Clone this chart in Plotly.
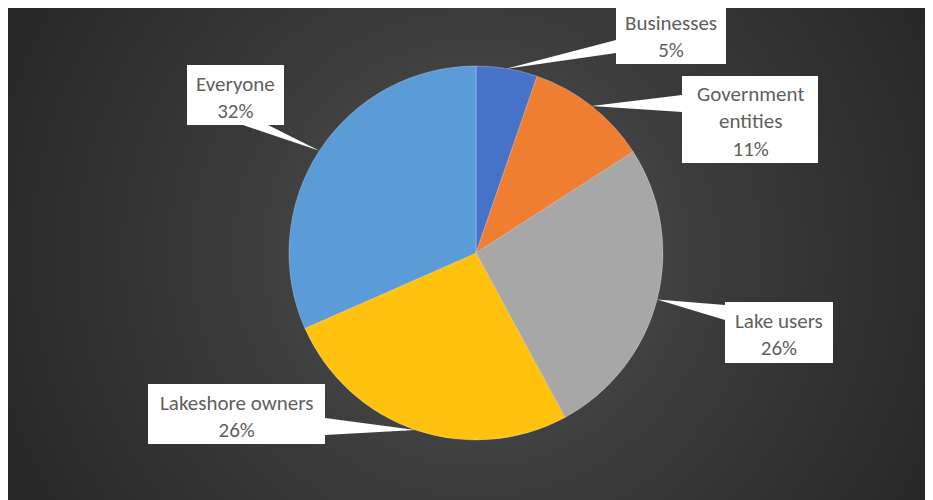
import math, base64
import plotly.graph_objects as go

# ---- data ----
labels = ["Businesses", "Government entities", "Lake users", "Lakeshore owners", "Everyone"]
label_text = ["Businesses", "Government<br>entities", "Lake users", "Lakeshore owners", "Everyone"]
values = [5.3, 10.6, 26.2, 26.3, 31.6]
colors = ["#4672C8", "#EF7E33", "#A7A7A7", "#FFC20E", "#5B9BD7"]

W, H = 933, 500
OX, OY = 8, 8   # page body margin offset (pixels)
# pie geometry (pixels in page coordinates)
CX, CY, R = 476, 253, 187

# callout boxes (pixels: x0, y0, x1, y1) and pointer base segments
boxes = [
    (616, 5, 726, 64),
    (682, 76, 818, 163),
    (725, 302, 833, 363),
    (148, 384, 325, 444),
    (187, 65, 284, 125),
]
bases = [
    ((616, 40), (616, 53)),
    ((682, 95), (682, 112)),
    ((725, 305), (725, 320)),
    ((325, 418), (325, 435)),
    ((243, 125), (268, 125)),
]

def px(x):
    return (x - OX) / W

def py(y):
    return (H - (y - OY)) / H

svg = f'''<svg xmlns="http://www.w3.org/2000/svg" width="{W}" height="{H}">
<defs><radialGradient id="g" cx="{CX - OX}" cy="{CY - OY}" r="560" gradientUnits="userSpaceOnUse">
<stop offset="0" stop-color="#555555"/><stop offset="0.45" stop-color="#3a3a3a"/><stop offset="1" stop-color="#242424"/>
</radialGradient></defs><rect width="{W}" height="{H}" fill="url(#g)"/></svg>'''
src = "data:image/svg+xml;base64," + base64.b64encode(svg.encode()).decode()

fig = go.Figure()
fig.add_trace(go.Pie(
    labels=labels, values=values, sort=False, direction="clockwise", rotation=0,
    marker=dict(colors=colors, line=dict(color="rgba(255,255,255,0.35)", width=0.8)),
    textinfo="none", hoverinfo="label+percent", showlegend=False,
    domain=dict(x=[px(CX - R), px(CX + R)], y=[py(CY + R), py(CY - R)]),
))

total = sum(values)
cum = 0
shapes = []
annotations = []
for i, v in enumerate(values):
    mid = (cum + v / 2) / total * 2 * math.pi
    cum += v
    tx = CX + R * math.sin(mid)
    ty = CY - R * math.cos(mid)
    (bx0, by0), (bx1, by1) = bases[i]
    path = f"M {px(bx0)},{py(by0)} L {px(tx)},{py(ty)} L {px(bx1)},{py(by1)} Z"
    shapes.append(dict(type="path", path=path, xref="paper", yref="paper",
                       fillcolor="white", line=dict(width=0), layer="above"))
    x0, y0, x1, y1 = boxes[i]
    shapes.append(dict(type="rect", xref="paper", yref="paper", x0=px(x0), x1=px(x1),
                       y0=py(y1), y1=py(y0), fillcolor="white", line=dict(width=0), layer="above"))
    pct = round(v / total * 100)
    annotations.append(dict(xref="paper", yref="paper", x=px((x0 + x1) / 2), y=py((y0 + y1) / 2 + 2),
                            text=f"{label_text[i]}<br>{pct}%", showarrow=False,
                            font=dict(family="Carlito, Calibri, Lato, sans-serif", size=21, color="#5f5f5f"),
                            align="center", xanchor="center", yanchor="middle"))

fig.update_layout(
    width=W, height=H, margin=dict(l=0, r=0, t=0, b=0),
    paper_bgcolor="white", plot_bgcolor="white",
    images=[dict(source=src, xref="paper", yref="paper", x=0, y=1,
                 sizex=1, sizey=1, sizing="stretch",
                 xanchor="left", yanchor="top", layer="below")],
    shapes=shapes, annotations=annotations,
)
fig.write_html("out.html")
